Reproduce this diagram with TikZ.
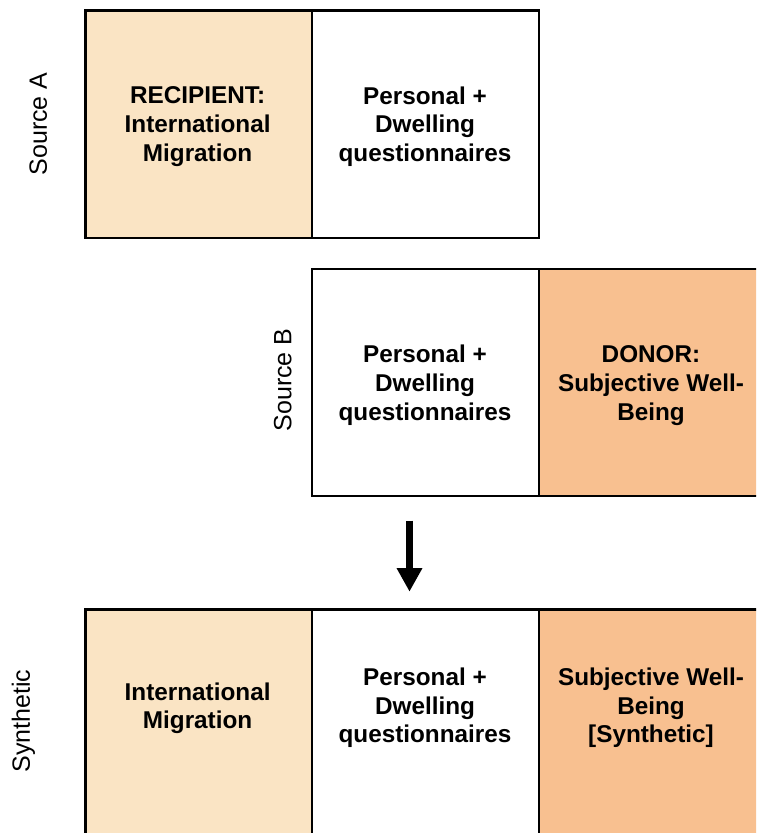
\documentclass[tikz,border=0pt]{standalone}
\usepackage{fontspec}
\setmainfont{Liberation Sans}
\usetikzlibrary{arrows.meta}
\definecolor{recip}{RGB}{250,228,196}
\definecolor{donor}{RGB}{248,192,144}
\begin{document}
\begin{tikzpicture}[x=1pt,y=-1pt,
  cell/.style={draw=black,line width=2.2pt,rectangle,inner sep=0pt,anchor=north west,
    minimum width=226.7pt,minimum height=227.4pt},
  celltext/.style={align=center,inner sep=0pt,anchor=center,
    font=\fontsize{24.3}{28.7}\selectfont\bfseries},
  rowlabel/.style={rotate=90,inner sep=0pt,anchor=center,
    font=\fontsize{25}{30}\selectfont},
  bigarrow/.style={line width=7pt,-{Triangle[width=24pt,length=23.5pt]}}
]
\clip (0,0) rectangle (756,833);
\fill[white] (0,0) rectangle (756,833);

% Source A
\node[cell,fill=recip] (a1) at (84.3,9.3) {};
\node[cell,fill=white] (a2) at (311,9.3) {};
\node[celltext] (a1t) at (197.6,126.6) {RECIPIENT:\\International\\Migration};
\node[celltext] (a2t) at (425,126.6) {Personal +\\Dwelling\\questionnaires};
\node[rowlabel] (la) at (38.3,124) {Source A};

% Source B
\node[cell,fill=white] (b1) at (311,267.7) {};
\node[cell,fill=donor] (b2) at (537.7,267.7) {};
\node[celltext] (b1t) at (425,385.4) {Personal +\\Dwelling\\questionnaires};
\node[celltext] (b2t) at (651,385.4) {DONOR:\\Subjective Well-\\Being};
\node[rowlabel] (lb) at (282.7,380) {Source B};

% Synthetic
\node[cell,fill=recip] (s1) at (84.3,608.3) {};
\node[cell,fill=white] (s2) at (311,608.3) {};
\node[cell,fill=donor] (s3) at (537.7,608.3) {};
\node[celltext] (s1t) at (197.6,708.2) {International\\Migration};
\node[celltext] (s2t) at (425,707.9) {Personal +\\Dwelling\\questionnaires};
\node[celltext] (s3t) at (651,707.9) {Subjective Well-\\Being\\{[Synthetic]}};
\node[rowlabel] (ls) at (23.3,721) {Synthetic};

% arrow
\coordinate (arrs) at (409.5,520.7);
\coordinate (arre) at (409.5,591.7);
\draw[bigarrow] (arrs) -- (arre);
\end{tikzpicture}
\end{document}
